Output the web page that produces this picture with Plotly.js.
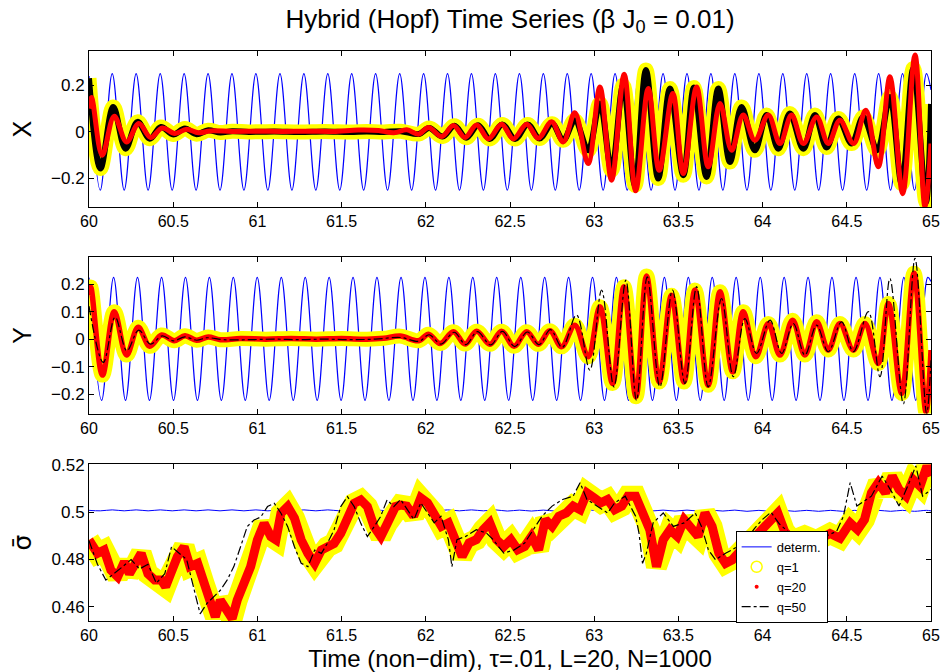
<!DOCTYPE html>
<html><head><meta charset="utf-8">
<script src="https://cdn.plot.ly/plotly-3.0.1.min.js"></script>
<style>html,body{margin:0;padding:0;background:#fff}</style>
</head><body><div id="chart" style="width:944px;height:672px"></div>
<script>
// ---------- deterministic (blue) sinusoid extremes ----------
const tBlueX = [60.000,
 60.067,60.138,60.209,60.280,60.351,60.423,60.494,60.565,60.636,60.707,
 60.778,60.849,60.920,60.991,61.062,61.134,61.205,61.276,61.347,61.418,
 61.489,61.560,61.631,61.702,61.773,61.845,61.916,61.987,62.058,62.129,
 62.200,62.271,62.342,62.413,62.484,62.556,62.627,62.698,62.769,62.840,
 62.911,62.982,63.053,63.124,63.196,63.267,63.338,63.409,63.480,63.551,
 63.622,63.693,63.764,63.835,63.907,63.978,64.049,64.120,64.191,64.262,
 64.333,64.404,64.475,64.547,64.618,64.689,64.760,64.831,64.902,64.973,
 65.000];
const xBlue = [0.24,
 -0.25,0.25,-0.25,0.25,-0.25,0.25,-0.25,0.25,-0.25,0.25,
 -0.25,0.25,-0.25,0.25,-0.25,0.25,-0.25,0.25,-0.25,0.25,
 -0.25,0.25,-0.25,0.25,-0.25,0.25,-0.25,0.25,-0.25,0.25,
 -0.25,0.25,-0.25,0.25,-0.25,0.25,-0.25,0.25,-0.25,0.25,
 -0.25,0.25,-0.25,0.25,-0.25,0.25,-0.25,0.25,-0.25,0.25,
 -0.25,0.25,-0.25,0.25,-0.25,0.25,-0.25,0.25,-0.25,0.25,
 -0.25,0.25,-0.25,0.25,-0.25,0.25,-0.25,0.25,-0.25,0.25,
 0.18];
const tBlueY = [60.000,
 60.075,60.146,60.217,60.288,60.359,60.431,60.502,60.573,60.644,60.715,
 60.786,60.857,60.928,60.999,61.070,61.142,61.213,61.284,61.355,61.426,
 61.497,61.568,61.639,61.710,61.781,61.853,61.924,61.995,62.066,62.137,
 62.208,62.279,62.350,62.421,62.492,62.564,62.635,62.706,62.777,62.848,
 62.919,62.990,63.061,63.132,63.204,63.275,63.346,63.417,63.488,63.559,
 63.630,63.701,63.772,63.843,63.915,63.986,64.057,64.128,64.199,64.270,
 64.341,64.412,64.483,64.555,64.626,64.697,64.768,64.839,64.910,64.981,
 65.000];
const yBlue = [0.224,
 -0.223,0.225,-0.223,0.225,-0.223,0.225,-0.223,0.225,-0.223,0.225,
 -0.223,0.225,-0.223,0.225,-0.223,0.225,-0.223,0.225,-0.223,0.225,
 -0.223,0.225,-0.223,0.225,-0.223,0.225,-0.223,0.225,-0.223,0.225,
 -0.223,0.225,-0.223,0.225,-0.223,0.225,-0.223,0.225,-0.223,0.225,
 -0.223,0.225,-0.223,0.225,-0.223,0.225,-0.223,0.225,-0.223,0.225,
 -0.223,0.225,-0.223,0.225,-0.223,0.225,-0.223,0.225,-0.223,0.225,
 -0.223,0.225,-0.223,0.225,-0.223,0.225,-0.223,0.225,-0.223,0.225,
 0.21];
const sigDet = [0.5008,
 0.5006,0.5010,0.5006,0.5010,0.5006,0.5010,0.5006,0.5010,0.5006,0.5010,
 0.5006,0.5010,0.5006,0.5010,0.5006,0.5010,0.5006,0.5010,0.5006,0.5010,
 0.5006,0.5010,0.5006,0.5010,0.5006,0.5010,0.5006,0.5010,0.5006,0.5010,
 0.5006,0.5010,0.5006,0.5010,0.5005,0.5009,0.5005,0.5009,0.5005,0.5009,
 0.5005,0.5009,0.5005,0.5009,0.5005,0.5009,0.5005,0.5009,0.5005,0.5009,
 0.5005,0.5009,0.5005,0.5009,0.5004,0.5008,0.5004,0.5008,0.5004,0.5008,
 0.5004,0.5008,0.5004,0.5008,0.5004,0.5008,0.5004,0.5008,0.5004,0.5008,
 0.5006];

// ---------- X panel ----------
// q=1 (yellow) and q=50 (black) nearly coincide
const tXA = [60.000,60.068,60.144,60.217,60.288,60.361,60.427,60.500,60.569,60.639,
 60.708,60.780,60.850,60.950,61.100,61.250,61.400,61.550,61.650,61.750,
 61.850,61.960,62.020,62.100,62.170,62.240,62.310,62.380,62.455,62.530,
 62.605,62.675,62.750,62.816,62.885,62.964,63.034,63.103,63.172,63.242,
 63.307,63.380,63.450,63.529,63.592,63.667,63.737,63.806,63.875,63.954,
 64.024,64.093,64.162,64.242,64.311,64.380,64.450,64.529,64.598,64.681,
 64.756,64.826,64.895,64.970,65.000];
const xA = [0.230,-0.157,0.107,-0.072,0.043,-0.029,0.021,-0.011,0.014,-0.010,
 0.007,-0.003,0.003,0.000,0.002,0.000,0.002,0.000,0.002,0.000,
 0.003,-0.009,0.017,-0.020,0.026,-0.025,0.029,-0.030,0.032,-0.031,
 0.032,-0.028,0.035,-0.036,0.050,-0.079,0.122,-0.165,0.200,-0.229,
 0.265,-0.200,0.186,-0.186,0.190,-0.193,0.186,-0.129,0.107,-0.079,
 0.072,-0.072,0.079,-0.072,0.072,-0.067,0.057,-0.050,0.064,-0.079,
 0.150,-0.222,0.272,-0.300,0.120];
// q=20 (red)
const tXB = [60.000,60.015,60.078,60.150,60.223,60.296,60.366,60.435,60.510,60.580,
 60.649,60.720,60.850,61.000,61.150,61.300,61.450,61.600,61.720,61.810,
 61.887,61.957,62.016,62.095,62.164,62.233,62.302,62.372,62.450,62.520,
 62.599,62.668,62.747,62.816,62.885,62.964,63.034,63.103,63.178,63.246,
 63.321,63.386,63.467,63.529,63.608,63.677,63.747,63.816,63.885,63.954,
 64.034,64.103,64.172,64.242,64.321,64.390,64.459,64.540,64.613,64.687,
 64.756,64.832,64.905,64.964,65.000];
const xB = [0.100,0.147,-0.100,0.067,-0.043,0.036,-0.024,0.017,-0.007,0.011,
 -0.004,0.004,0.002,0.003,0.002,0.003,0.002,0.008,0.006,-0.004,
 0.009,-0.010,0.019,-0.020,0.027,-0.024,0.030,-0.030,0.033,-0.030,
 0.033,-0.027,0.043,-0.043,0.082,-0.136,0.193,-0.207,0.247,-0.253,
 0.186,-0.165,0.165,-0.179,0.193,-0.150,0.122,-0.079,0.072,-0.036,
 0.072,-0.050,0.072,-0.050,0.064,-0.050,0.050,-0.050,0.093,-0.150,
 0.236,-0.265,0.330,-0.320,-0.050];

// ---------- Y panel ----------
// q=1 (yellow) and q=20 (red)
const tYC = [60.000,60.010,60.080,60.150,60.223,60.292,60.361,60.431,60.506,60.570,
 60.639,60.708,60.780,60.900,61.050,61.200,61.350,61.500,61.650,61.750,
 61.848,61.957,62.016,62.085,62.164,62.233,62.302,62.381,62.450,62.524,
 62.599,62.668,62.737,62.806,62.885,62.964,63.034,63.109,63.176,63.248,
 63.311,63.386,63.459,63.533,63.598,63.677,63.747,63.822,63.885,63.960,
 64.034,64.103,64.178,64.251,64.321,64.390,64.459,64.539,64.608,64.687,
 64.747,64.826,64.899,64.970,65.000];
const yC = [0.160,0.190,-0.131,0.100,-0.058,0.043,-0.026,0.015,-0.006,0.012,
 -0.004,0.008,-0.002,0.002,0.000,0.002,0.000,0.002,0.000,0.003,
 0.011,-0.006,0.018,-0.016,0.027,-0.018,0.029,-0.019,0.029,-0.026,
 0.027,-0.019,0.031,-0.028,0.051,-0.064,0.118,-0.162,0.191,-0.210,
 0.230,-0.156,0.160,-0.156,0.179,-0.168,0.173,-0.119,0.100,-0.064,
 0.057,-0.058,0.069,-0.058,0.063,-0.040,0.057,-0.040,0.057,-0.089,
 0.130,-0.198,0.240,-0.265,-0.040];
// q=50 (black dash-dot)
const tYD = [60.000,60.085,60.155,60.225,60.295,60.365,60.435,60.500,60.570,60.640,
 60.700,60.800,60.950,61.100,61.250,61.400,61.550,61.700,61.850,61.960,
 62.020,62.090,62.168,62.238,62.306,62.385,62.455,62.528,62.603,62.672,
 62.740,62.810,62.895,62.974,63.044,63.117,63.188,63.251,63.315,63.390,
 63.465,63.539,63.608,63.677,63.756,63.826,63.895,63.964,64.044,64.113,
 64.182,64.251,64.321,64.390,64.469,64.539,64.628,64.697,64.756,64.836,
 64.905,64.974,65.000];
const yD = [0.120,-0.085,0.080,-0.042,0.033,-0.018,0.012,-0.006,0.008,-0.004,
 0.005,-0.002,-0.002,0.000,-0.002,0.000,-0.002,0.000,0.006,-0.008,
 0.016,-0.018,0.025,-0.020,0.027,-0.021,0.028,-0.027,0.026,-0.020,
 0.035,-0.030,0.088,-0.113,0.179,-0.174,0.215,-0.223,0.227,-0.174,
 0.179,-0.162,0.191,-0.174,0.148,-0.137,0.075,-0.052,0.069,-0.052,
 0.057,-0.058,0.051,-0.046,0.063,-0.046,0.100,-0.137,0.221,-0.235,
 0.294,-0.271,-0.077];

// ---------- sigma-bar panel ----------
// q=1 (yellow) and q=20 (red)
const tSig = [60.00,60.05,60.09,60.13,60.17,60.21,60.24,60.27,60.31,60.35,
 60.39,60.43,60.455,60.485,60.525,60.565,60.60,60.645,60.683,60.72,
 60.75,60.78,60.81,60.85,60.88,60.92,60.96,61.00,61.04,61.08,
 61.11,61.14,61.18,61.22,61.26,61.30,61.34,61.38,61.415,61.455,
 61.495,61.535,61.575,61.614,61.653,61.693,61.733,61.772,61.82,61.85,
 61.887,61.928,61.97,62.01,62.05,62.093,62.134,62.175,62.216,62.257,
 62.30,62.34,62.38,62.42,62.463,62.505,62.546,62.587,62.628,62.67,
 62.71,62.75,62.79,62.834,62.875,62.916,62.957,63.00,63.04,63.08,
 63.122,63.164,63.20,63.246,63.287,63.33,63.37,63.41,63.45,63.493,
 63.534,63.575,63.617,63.658,63.70,63.74,63.78,63.82,63.864,63.91,
 63.96,64.00,64.05,64.09,64.13,64.18,64.25,64.32,64.40,64.46,
 64.52,64.564,64.605,64.646,64.687,64.73,64.77,64.81,64.852,64.893,
 64.935,64.976,65.00];
const sigQ20 = [0.4883,0.4826,0.4840,0.4755,0.4727,0.4790,0.4740,0.4770,0.4826,0.4740,
 0.4713,0.4713,0.4685,0.4740,0.4812,0.4854,0.4770,0.4784,0.4699,0.4614,
 0.4558,0.4628,0.4600,0.4550,0.4628,0.4699,0.4770,0.4883,0.4953,0.4897,
 0.4883,0.4996,0.5024,0.4975,0.4883,0.4826,0.4784,0.4840,0.4854,0.4868,
 0.4911,0.4982,0.5038,0.5052,0.5024,0.4939,0.4897,0.4953,0.5024,0.5030,
 0.5026,0.4983,0.5061,0.5040,0.4997,0.4940,0.4955,0.4884,0.4813,0.4870,
 0.4884,0.4926,0.4955,0.4884,0.4855,0.4884,0.4841,0.4855,0.4898,0.4841,
 0.4969,0.4940,0.4983,0.4997,0.5026,0.5011,0.5082,0.5061,0.5040,0.5054,
 0.5011,0.5026,0.5068,0.5068,0.4997,0.4926,0.4770,0.4884,0.4926,0.4898,
 0.4969,0.4926,0.4898,0.4997,0.4940,0.4827,0.4784,0.4799,0.4841,0.4870,
 0.4900,0.4930,0.4960,0.4997,0.4920,0.4880,0.4900,0.4880,0.4910,0.4890,
 0.4955,0.4926,0.4969,0.5082,0.5125,0.5082,0.5153,0.5096,0.5068,0.5139,
 0.5110,0.5196,0.5153];
// q=50 (black dash-dot)
const tSig50 = [60.00,60.05,60.10,60.15,60.20,60.25,60.30,60.35,60.40,60.45,
 60.49,60.53,60.58,60.62,60.66,60.70,60.74,60.78,60.82,60.86,
 60.90,60.94,60.98,61.02,61.06,61.10,61.14,61.18,61.22,61.26,
 61.30,61.34,61.38,61.415,61.455,61.495,61.535,61.575,61.614,61.653,
 61.693,61.73,61.77,61.81,61.85,61.93,61.97,62.05,62.09,62.134,
 62.155,62.185,62.237,62.30,62.36,62.40,62.463,62.525,62.587,62.65,
 62.69,62.75,62.813,62.875,62.916,62.957,63.02,63.08,63.122,63.184,
 63.246,63.266,63.287,63.31,63.35,63.41,63.47,63.534,63.60,63.637,
 63.678,63.72,63.78,63.82,63.90,63.95,64.00,64.05,64.10,64.18,
 64.28,64.38,64.44,64.48,64.52,64.56,64.646,64.71,64.77,64.81,
 64.87,64.91,64.95,65.00];
const sig50 = [0.4880,0.4780,0.4713,0.4740,0.4770,0.4800,0.4760,0.4780,0.4700,0.4740,
 0.4854,0.4830,0.4800,0.4685,0.4570,0.4614,0.4642,0.4670,0.4713,0.4770,
 0.4854,0.4940,0.4967,0.4980,0.5024,0.5038,0.4996,0.4939,0.4854,0.4784,
 0.4770,0.4840,0.4826,0.4868,0.4925,0.5024,0.5066,0.5024,0.4953,0.4897,
 0.4939,0.4980,0.5052,0.5024,0.5054,0.4969,0.5040,0.4955,0.4983,0.4884,
 0.4770,0.4884,0.4898,0.4926,0.4912,0.4884,0.4827,0.4841,0.4870,0.4940,
 0.4983,0.5026,0.5054,0.5068,0.5125,0.5054,0.5026,0.4997,0.5040,0.5068,
 0.4983,0.4912,0.4784,0.4827,0.4955,0.4997,0.4940,0.4955,0.4997,0.4940,
 0.4841,0.4799,0.4827,0.4841,0.4880,0.4930,0.4970,0.5000,0.4950,0.4900,
 0.4880,0.4900,0.4920,0.4983,0.5125,0.5026,0.5068,0.5153,0.5082,0.5026,
 0.5125,0.5196,0.5068,0.5096];

const xTickVals = [60,60.5,61,61.5,62,62.5,63,63.5,64,64.5,65];
const legendNames = ['determ.','q=1','q=20','q=50'];

const FONT = 'Liberation Sans, Arial, Helvetica, sans-serif';
const BLUE = '#0000ff', YEL = '#ffff00', RED = '#ff0000', BLK = '#000000';

function sp(x, y, xa, ya, color, width, extra) {
  return Object.assign({x: x, y: y, xaxis: xa, yaxis: ya, type: 'scatter', mode: 'lines',
    line: {color: color, width: width, shape: 'spline', smoothing: 1},
    showlegend: false, hoverinfo: 'skip'}, extra || {});
}
function ln(x, y, xa, ya, color, width, extra) {
  return Object.assign({x: x, y: y, xaxis: xa, yaxis: ya, type: 'scatter', mode: 'lines',
    line: {color: color, width: width},
    showlegend: false, hoverinfo: 'skip'}, extra || {});
}

const traces = [
  // X panel
  sp(tBlueX, xBlue, 'x', 'y', BLUE, 1.2),
  sp(tXA, xA, 'x', 'y', YEL, 15),
  sp(tXA, xA, 'x', 'y', BLK, 6),
  sp(tXB, xB, 'x', 'y', RED, 5),
  // Y panel
  sp(tBlueY, yBlue, 'x2', 'y2', BLUE, 1.2),
  sp(tYC, yC, 'x2', 'y2', YEL, 15),
  sp(tYC, yC, 'x2', 'y2', RED, 5.5),
  sp(tYD, yD, 'x2', 'y2', BLK, 1.2, {line: {color: BLK, width: 1.2, shape: 'spline', smoothing: 1, dash: 'dashdot'}}),
  // sigma panel
  sp(tBlueX, sigDet, 'x3', 'y3', BLUE, 1, {showlegend: true, name: legendNames[0], legendrank: 1}),
  ln(tSig, sigQ20, 'x3', 'y3', YEL, 21),
  ln(tSig, sigQ20, 'x3', 'y3', RED, 9),
  ln(tSig50, sig50, 'x3', 'y3', BLK, 1.2, {line: {color: BLK, width: 1.2, dash: 'dashdot'}, showlegend: true, name: legendNames[3], legendrank: 4}),
  // legend-only entries
  {x: [null], y: [null], xaxis: 'x3', yaxis: 'y3', type: 'scatter', mode: 'markers', name: legendNames[1], legendrank: 2,
   marker: {symbol: 'circle-open', size: 11, color: YEL, line: {width: 1.5, color: YEL}}, showlegend: true},
  {x: [null], y: [null], xaxis: 'x3', yaxis: 'y3', type: 'scatter', mode: 'markers', name: legendNames[2], legendrank: 3,
   marker: {symbol: 'circle', size: 4, color: RED}, showlegend: true}
];

function xax(anchor, withTitle) {
  const a = {range: [60, 65], tickvals: xTickVals, ticks: 'inside', ticklen: 5, tickcolor: BLK,
    showline: true, linecolor: BLK, linewidth: 1, mirror: 'ticks', showgrid: false, zeroline: false,
    tickfont: {size: 16, color: BLK, family: FONT}, anchor: anchor};
  if (withTitle) a.title = {text: 'Time (non\u2212dim), \u03c4=.01, L=20, N=1000', font: {size: 24, color: BLK, family: FONT}, standoff: 7};
  return a;
}
function yax(dom, rng, tv, title, anchor, fam) {
  return {domain: dom, range: rng, tickvals: tv, ticks: 'inside', ticklen: 5, tickcolor: BLK,
    showline: true, linecolor: BLK, linewidth: 1, mirror: 'ticks', showgrid: false, zeroline: false,
    tickfont: {size: 17, color: BLK, family: FONT}, anchor: anchor,
    title: {text: title, font: {size: 25, color: BLK, family: fam || FONT}, standoff: 12}};
}

const layout = {
  width: 944, height: 672,
  paper_bgcolor: '#fff', plot_bgcolor: '#fff',
  margin: {l: 89, r: 13, t: 51, b: 51},
  font: {family: FONT, color: BLK},
  title: {text: 'Hybrid (Hopf) Time Series (\u03b2 J<sub>0</sub> = 0.01)', font: {size: 26, color: BLK, family: FONT},
    x: 0.5, xref: 'paper', xanchor: 'center', y: 0.972, yref: 'container', yanchor: 'middle'},
  xaxis: xax('y', false),
  xaxis2: xax('y2', false),
  xaxis3: xax('y3', true),
  yaxis: yax([0.726, 1], [-0.323, 0.347], [-0.2, 0, 0.2], 'X', 'x'),
  yaxis2: yax([0.364, 0.638], [-0.271, 0.298], [-0.2, -0.1, 0, 0.1, 0.2], 'Y', 'x2'),
  yaxis3: yax([0, 0.275], [0.454, 0.5203], [0.46, 0.48, 0.5, 0.52], '\u03c3\u0304', 'x3', 'DejaVu Sans, sans-serif'),
  showlegend: true,
  legend: {x: 0.768, y: 0.158, xanchor: 'left', yanchor: 'top', xref: 'paper', yref: 'paper',
    bgcolor: '#fff', bordercolor: BLK, borderwidth: 1, font: {size: 13, color: BLK, family: FONT},
    traceorder: 'normal', itemwidth: 30, tracegroupgap: 0}
};

Plotly.newPlot('chart', traces, layout, {staticPlot: true, displayModeBar: false});
</script>
</body></html>
